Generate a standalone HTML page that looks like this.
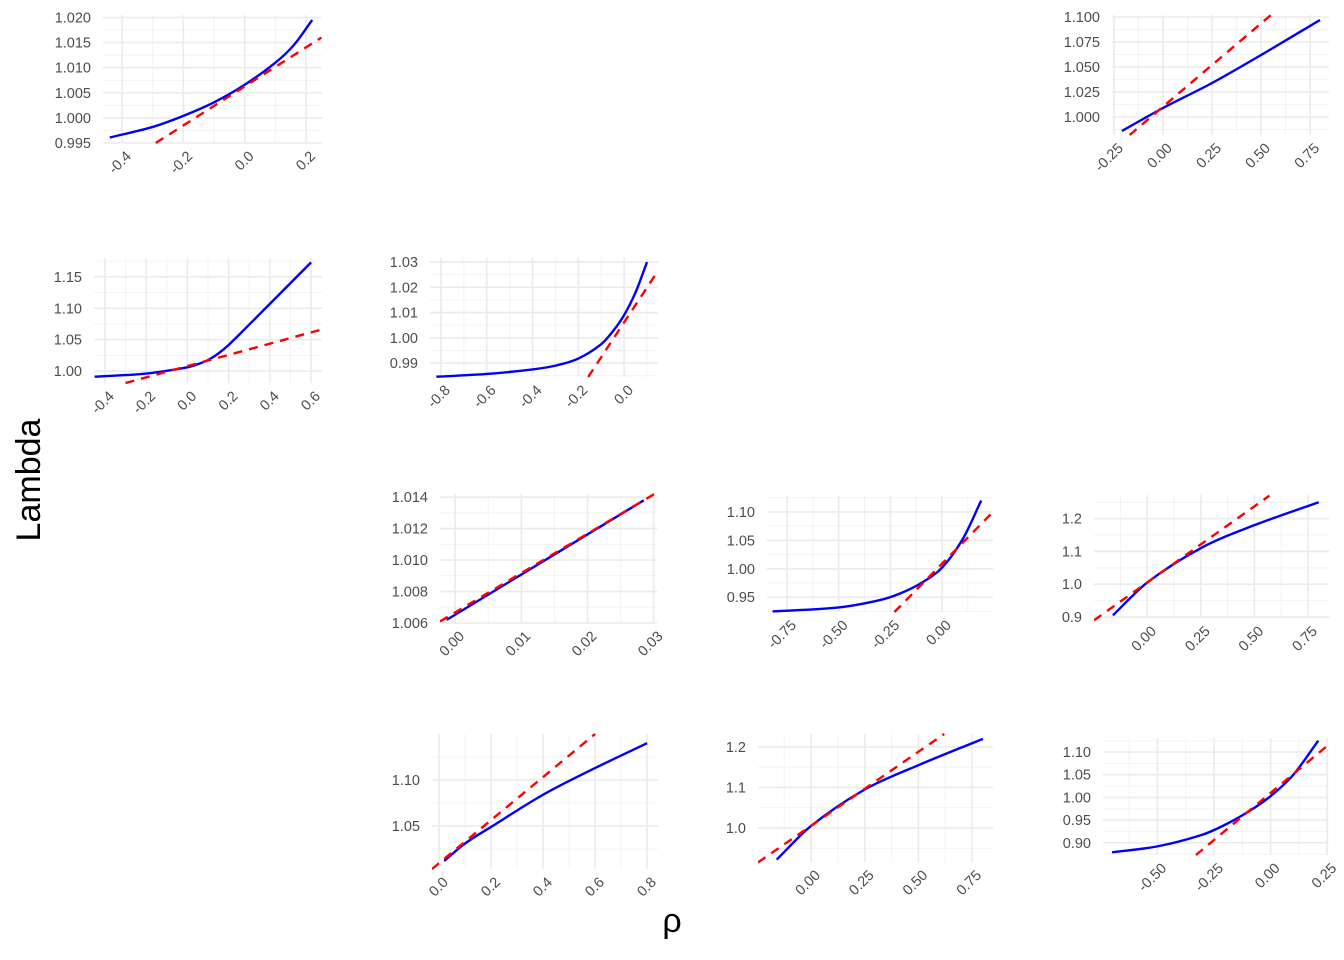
<!DOCTYPE html>
<html><head><meta charset="utf-8"><style>
html,body{margin:0;padding:0;background:#fff;}
svg{display:block;font-family:"Liberation Sans",sans-serif;}
</style></head><body>
<svg id="chart" width="1344" height="960" viewBox="0 0 1344 960">
<text transform="translate(40,480) rotate(-90)" text-anchor="middle" font-size="34" fill="#000">Lambda</text>
<text x="672" y="932" text-anchor="middle" font-size="34" fill="#000">ρ</text>
</svg>
<script>
// Panel data
const pA_xTicks=[-0.4,-0.2,0.0,0.2], pA_xLabels=["-0.4","-0.2","0.0","0.2"];
const pA_yTicks=[0.995,1.000,1.005,1.010,1.015,1.020], pA_yLabels=["0.995","1.000","1.005","1.010","1.015","1.020"];
const pA_bx=[-0.44,-0.3,-0.2,-0.1,0.0,0.1,0.16,0.22], pA_by=[0.9961,0.9982,1.0004,1.0031,1.0066,1.0110,1.0145,1.0195];
const pA_red=[-0.29,0.995,0.25,1.0160];

const pB_xTicks=[-0.25,0,0.25,0.5,0.75], pB_xLabels=["-0.25","0.00","0.25","0.50","0.75"];
const pB_yTicks=[1.000,1.025,1.050,1.075,1.100], pB_yLabels=["1.000","1.025","1.050","1.075","1.100"];
const pB_bx=[-0.21,0.0,0.25,0.5,0.8], pB_by=[0.986,1.009,1.034,1.062,1.097];
const pB_red=[-0.17,0.982,0.55,1.102];

const pC_xTicks=[-0.4,-0.2,0,0.2,0.4,0.6], pC_xLabels=["-0.4","-0.2","0.0","0.2","0.4","0.6"];
const pC_yTicks=[1.00,1.05,1.10,1.15], pC_yLabels=["1.00","1.05","1.10","1.15"];
const pC_bx=[-0.45,-0.2,0,0.05,0.1,0.15,0.2,0.3,0.4,0.6], pC_by=[0.991,0.996,1.006,1.011,1.0176,1.028,1.0415,1.074,1.107,1.173];
const pC_red=[-0.3,0.981,0.65,1.066];

const pD_xTicks=[-0.8,-0.6,-0.4,-0.2,0], pD_xLabels=["-0.8","-0.6","-0.4","-0.2","0.0"];
const pD_yTicks=[0.99,1.00,1.01,1.02,1.03], pD_yLabels=["0.99","1.00","1.01","1.02","1.03"];
const pD_bx=[-0.82,-0.6,-0.4,-0.3,-0.2,-0.1,-0.05,0,0.05,0.1], pD_by=[0.9846,0.9857,0.9875,0.989,0.9918,0.9975,1.0025,1.0090,1.0180,1.030];
const pD_red=[-0.157,0.9845,0.144,1.026];

const pE_xTicks=[0,0.01,0.02,0.03], pE_xLabels=["0.00","0.01","0.02","0.03"];
const pE_yTicks=[1.006,1.008,1.010,1.012,1.014], pE_yLabels=["1.006","1.008","1.010","1.012","1.014"];
const pE_bx=[-0.0013,0.0285], pE_by=[1.0062,1.0138];
const pE_red=[-0.0023,1.0061,0.0305,1.0143];

const pF_xTicks=[-0.75,-0.5,-0.25,0], pF_xLabels=["-0.75","-0.50","-0.25","0.00"];
const pF_yTicks=[0.95,1.00,1.05,1.10], pF_yLabels=["0.95","1.00","1.05","1.10"];
const pF_bx=[-0.82,-0.5,-0.3,-0.2,-0.1,0,0.1,0.19], pF_by=[0.925,0.932,0.945,0.957,0.975,1.002,1.052,1.12];
const pF_red=[-0.23,0.924,0.247,1.10];

const pG_xTicks=[0,0.25,0.5,0.75], pG_xLabels=["0.00","0.25","0.50","0.75"];
const pG_yTicks=[0.9,1.0,1.1,1.2], pG_yLabels=["0.9","1.0","1.1","1.2"];
const pG_bx=[-0.16,0,0.25,0.5,0.8], pG_by=[0.905,1.005,1.11,1.18,1.25];
const pG_red=[-0.248,0.89,0.57,1.27];

const pH_xTicks=[0,0.2,0.4,0.6,0.8], pH_xLabels=["0.0","0.2","0.4","0.6","0.8"];
const pH_yTicks=[1.05,1.10], pH_yLabels=["1.05","1.10"];
const pH_bx=[0.02,0.1,0.2,0.4,0.6,0.8], pH_by=[1.012,1.031,1.049,1.084,1.113,1.140];
const pH_red=[-0.027,1.0033,0.6,1.150];

const pI_xTicks=[0,0.25,0.5,0.75], pI_xLabels=["0.00","0.25","0.50","0.75"];
const pI_yTicks=[1.0,1.1,1.2], pI_yLabels=["1.0","1.1","1.2"];
const pI_bx=[-0.16,0,0.25,0.5,0.8], pI_by=[0.922,1.005,1.095,1.155,1.22];
const pI_red=[-0.247,0.915,0.62,1.232];

const pJ_xTicks=[-0.5,-0.25,0,0.25], pJ_xLabels=["-0.50","-0.25","0.00","0.25"];
const pJ_yTicks=[0.90,0.95,1.00,1.05,1.10], pJ_yLabels=["0.90","0.95","1.00","1.05","1.10"];
const pJ_bx=[-0.7,-0.5,-0.3,-0.2,-0.1,0,0.1,0.21], pJ_by=[0.879,0.892,0.918,0.940,0.968,1.003,1.050,1.125];
const pJ_red=[-0.33,0.873,0.253,1.115];

const NS="http://www.w3.org/2000/svg";
const svg=document.getElementById('chart');
function mk(tag,attrs,parent){const e=document.createElementNS(NS,tag);for(const k in attrs)e.setAttribute(k,attrs[k]);parent.appendChild(e);return e;}

function panel(id,rect,xd,yd,xT,xL,yT,yL,bx,by,red){
  const [L,R,T,B]=rect;
  const sx=v=>L+(v-xd[0])/(xd[1]-xd[0])*(R-L);
  const sy=v=>B-(v-yd[0])/(yd[1]-yd[0])*(B-T);
  const g=mk('g',{},svg);
  
  
  const cp=mk('clipPath',{id:'clip-'+id},g);
  mk('rect',{x:L,y:T-3,width:R-L,height:B-T+6},cp);
  const xs=xT[1]-xT[0], ys=yT.length>1?yT[1]-yT[0]:0.05;
  for(let v=xT[0]-xs/2;v<=xd[1]+1e-9;v+=xs){if(v>=xd[0]){const l=mk('line',{x1:sx(v),x2:sx(v),y1:T,y2:B,stroke:'#f3f3f3','stroke-width':1},g);}}
  for(let v=yT[0]-ys/2;v<=yd[1]+1e-9;v+=ys){if(v>=yd[0]){const l=mk('line',{x1:L,x2:R,y1:sy(v),y2:sy(v),stroke:'#f3f3f3','stroke-width':1},g);}}
  xT.forEach((v,i)=>{
    const l=mk('line',{x1:sx(v),x2:sx(v),y1:T,y2:B,stroke:'#ebebeb','stroke-width':1.6},g);
    
    
    const t=mk('text',{transform:`translate(${sx(v)+10},${B+14}) rotate(-45)`,'text-anchor':'end','font-size':14.5,fill:'#4d4d4d'},g);
    t.textContent=xL[i];
    
    
  });
  yT.forEach((v,i)=>{
    const l=mk('line',{x1:L,x2:R,y1:sy(v),y2:sy(v),stroke:'#ebebeb','stroke-width':1.6},g);
    
    
    const t=mk('text',{x:L-12,y:sy(v)+5,'text-anchor':'end','font-size':14.5,fill:'#4d4d4d'},g);
    t.textContent=yL[i];
    
    
  });
  // blue curve: cubic Hermite with finite-difference tangents
  const P=bx.map((x,i)=>[sx(x),sy(by[i])]);
  const n=P.length, m=[];
  for(let i=0;i<n;i++){
    const a=P[Math.max(0,i-1)], b=P[Math.min(n-1,i+1)];
    m.push((b[1]-a[1])/(b[0]-a[0]));
  }
  let d='M'+P[0][0]+','+P[0][1];
  for(let i=0;i<n-1;i++){
    const dx=(P[i+1][0]-P[i][0])/3;
    d+=` C${P[i][0]+dx},${P[i][1]+m[i]*dx} ${P[i+1][0]-dx},${P[i+1][1]-m[i+1]*dx} ${P[i+1][0]},${P[i+1][1]}`;
  }
  const bl=mk('path',{d:d,fill:'none',stroke:'#0000ff','stroke-width':2.4},g);
  
  
  const rl=mk('line',{x1:sx(red[0]),y1:sy(red[1]),x2:sx(red[2]),y2:sy(red[3]),stroke:'#ff0000','stroke-width':2.4,'stroke-dasharray':'9,7','clip-path':`url(#clip-${id})`},g);
  
  
}
panel('a',[103,322,15,143],[-0.462,0.252],[0.995,1.0205],pA_xTicks,pA_xLabels,pA_yTicks,pA_yLabels,pA_bx,pA_by,pA_red);
panel('b',[1112,1329,15,135],[-0.26,0.846],[0.982,1.102],pB_xTicks,pB_xLabels,pB_yTicks,pB_yLabels,pB_bx,pB_by,pB_red);
panel('c',[94,322,258,383],[-0.453,0.653],[0.981,1.180],pC_xTicks,pC_xLabels,pC_yTicks,pC_yLabels,pC_bx,pC_by,pC_red);
panel('d',[430,658,258,377],[-0.848,0.148],[0.9845,1.0316],pD_xTicks,pD_xLabels,pD_yTicks,pD_yLabels,pD_bx,pD_by,pD_red);
panel('e',[440,657,494,623],[-0.0023,0.0305],[1.006,1.0142],pE_xTicks,pE_xLabels,pE_yTicks,pE_yLabels,pE_bx,pE_by,pE_red);
panel('f',[767,993,496,612],[-0.847,0.247],[0.924,1.128],pF_xTicks,pF_xLabels,pF_yTicks,pF_yLabels,pF_bx,pF_by,pF_red);
panel('g',[1094,1329,495,618],[-0.248,0.848],[0.897,1.272],pG_xTicks,pG_xLabels,pG_yTicks,pG_yLabels,pG_bx,pG_by,pG_red);
panel('h',[432,658,734,869],[-0.027,0.842],[1.0033,1.150],pH_xTicks,pH_xLabels,pH_yTicks,pH_yLabels,pH_bx,pH_by,pH_red);
panel('i',[758,993,734,862],[-0.247,0.847],[0.916,1.232],pI_xTicks,pI_xLabels,pI_yTicks,pI_yLabels,pI_bx,pI_by,pI_red);
panel('j',[1103,1328,738,855],[-0.74,0.253],[0.873,1.131],pJ_xTicks,pJ_xLabels,pJ_yTicks,pJ_yLabels,pJ_bx,pJ_by,pJ_red);
</script>
</body></html>
